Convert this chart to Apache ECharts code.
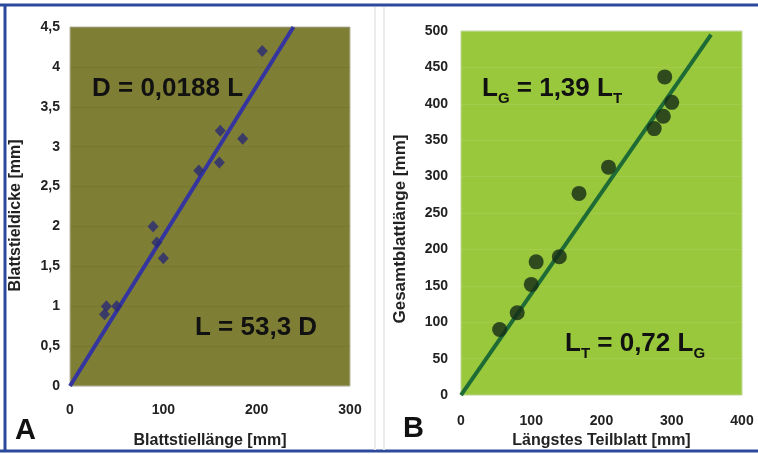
<!DOCTYPE html>
<html>
<head>
<meta charset="utf-8">
<script src="https://cdn.jsdelivr.net/npm/echarts@6/dist/echarts.min.js"></script>
<style>
  html, body { margin: 0; padding: 0; background: #fff; }
  #chart { width: 758px; height: 454px; }
</style>
</head>
<body>
<div id="chart"></div>
<script>
// Panel A: Blattstiellänge [mm] vs. Blattstieldicke [mm]
var stielLaenge = [206, 161, 185, 160, 138, 89, 93, 100, 39, 37, 50];
var stielDicke  = [4.2, 3.2, 3.1, 2.8, 2.7, 2.0, 1.8, 1.6, 1.0, 0.9, 1.0];
var fitA = [[0, 0], [239.4, 4.5]];   // D = 0,0188 L

// Panel B: Längstes Teilblatt [mm] vs. Gesamtblattlänge [mm]
var teilblatt  = [290, 300, 288, 275, 210, 168, 140, 107, 100, 80, 55];
var gesamtLang = [437, 402, 383, 366, 313, 277, 190, 183, 152, 113, 90];
var fitB = [[0, 0], [356, 495]];     // LG = 1,39 LT

var ticksA = { xMax: 300, xStep: 100, yMax: 4.5, yStep: 0.5 };
var ticksB = { xMax: 400, xStep: 100, yMax: 500, yStep: 50 };

function pairs(xs, ys) {
    return xs.map(function (x, i) { return [x, ys[i]]; });
}
function comma(v) { return String(v).replace('.', ','); }

var fontFam = '"Liberation Sans", Arial, sans-serif';
var tickStyle = { color: '#222', fontSize: 14, fontWeight: 'bold', fontFamily: fontFam };
function nameStyle(size, pad) {
    return { color: '#222', fontSize: size, fontWeight: 'bold', fontFamily: fontFam, padding: pad || 0 };
}
var blue = '#2b4a9c';

var mychart = echarts.init(document.getElementById('chart'));
var option = {
    backgroundColor: '#fff',
    animation: false,
    grid: [
        { left: 70, top: 27, width: 280, height: 360, show: true,
          backgroundColor: '#7f7e35', borderColor: '#b5b5a0', borderWidth: 1 },
        { left: 461, top: 31, width: 281, height: 367, show: true,
          backgroundColor: '#99c83d', borderColor: '#c0d8a0', borderWidth: 1 }
    ],
    xAxis: [
        { type: 'value', gridIndex: 0, min: 0, max: ticksA.xMax, interval: ticksA.xStep,
          name: 'Blattstiellänge [mm]', nameLocation: 'middle', nameGap: 47, nameTextStyle: nameStyle(16),
          axisLine: { show: false }, axisTick: { show: false }, splitLine: { show: false },
          axisLabel: Object.assign({ margin: 17 }, tickStyle) },
        { type: 'value', gridIndex: 1, min: 0, max: ticksB.xMax, interval: ticksB.xStep,
          name: 'Längstes Teilblatt [mm]', nameLocation: 'middle', nameGap: 33, nameTextStyle: nameStyle(16),
          axisLine: { show: false }, axisTick: { show: false }, splitLine: { show: false },
          axisLabel: Object.assign({ margin: 19 }, tickStyle) }
    ],
    yAxis: [
        { type: 'value', gridIndex: 0, min: 0, max: ticksA.yMax, interval: ticksA.yStep,
          name: 'Blattstieldicke [mm]', nameLocation: 'middle', nameGap: 46,
          nameTextStyle: nameStyle(16, [0, 18, 0, 0]),
          axisLine: { show: false }, axisTick: { show: false },
          splitLine: { lineStyle: { color: 'rgba(0,0,0,0.05)', width: 1 } },
          axisLabel: Object.assign({ margin: 10, formatter: comma }, tickStyle) },
        { type: 'value', gridIndex: 1, min: 0, max: ticksB.yMax, interval: ticksB.yStep,
          name: 'Gesamtblattlänge [mm]', nameLocation: 'middle', nameGap: 52,
          nameTextStyle: nameStyle(17, [0, 32, 0, 0]),
          axisLine: { show: false }, axisTick: { show: false },
          splitLine: { lineStyle: { color: 'rgba(255,255,255,0.08)', width: 1 } },
          axisLabel: Object.assign({ margin: 13 }, tickStyle) }
    ],
    series: [
        { type: 'line', xAxisIndex: 0, yAxisIndex: 0, data: fitA, symbol: 'none',
          lineStyle: { color: '#3535a0', width: 4 }, z: 2 },
        { type: 'scatter', xAxisIndex: 0, yAxisIndex: 0, data: pairs(stielLaenge, stielDicke),
          symbol: 'diamond', symbolSize: [11, 12], itemStyle: { color: '#2a2a76' }, z: 3 },
        { type: 'line', xAxisIndex: 1, yAxisIndex: 1, data: fitB, symbol: 'none',
          lineStyle: { color: '#1e6b35', width: 4 }, z: 2 },
        { type: 'scatter', xAxisIndex: 1, yAxisIndex: 1, data: pairs(teilblatt, gesamtLang),
          symbol: 'circle', symbolSize: 15, itemStyle: { color: '#142c17' }, z: 3 }
    ],
    graphic: [
        // frame
        { type: 'line', shape: { x1: 0, y1: 5, x2: 758, y2: 5 }, style: { stroke: blue, lineWidth: 3 } },
        { type: 'line', shape: { x1: 0, y1: 451, x2: 758, y2: 451 }, style: { stroke: blue, lineWidth: 3 } },
        { type: 'line', shape: { x1: 5, y1: 5, x2: 5, y2: 451 }, style: { stroke: blue, lineWidth: 3 } },
        { type: 'line', shape: { x1: 375, y1: 7, x2: 375, y2: 450 }, style: { stroke: '#ececec', lineWidth: 2 } },
        { type: 'line', shape: { x1: 384, y1: 7, x2: 384, y2: 450 }, style: { stroke: '#ececec', lineWidth: 2 } },
        // panel letters
        { type: 'text', left: 15, top: 416, style: { text: 'A', fill: '#111', font: 'bold 29px ' + fontFam } },
        { type: 'text', left: 403, top: 414, style: { text: 'B', fill: '#111', font: 'bold 29px ' + fontFam } },
        // equations
        { type: 'text', left: 92, top: 76, style: { text: 'D = 0,0188 L', fill: '#111', font: 'bold 26px ' + fontFam } },
        { type: 'text', left: 195, top: 315, style: { text: 'L = 53,3 D', fill: '#111', font: 'bold 26px ' + fontFam } },
        { type: 'text', left: 482, top: 76, style: {
            text: '{b|L}{s|G}{b| = 1,39 L}{s|T}', fill: '#111',
            rich: {
                b: { font: 'bold 26px ' + fontFam, fill: '#111', verticalAlign: 'bottom' },
                s: { font: 'bold 15px ' + fontFam, fill: '#111', verticalAlign: 'bottom', padding: [0, 0, -4, 0] }
            } } },
        { type: 'text', left: 565, top: 331, style: {
            text: '{b|L}{s|T}{b| = 0,72 L}{s|G}', fill: '#111',
            rich: {
                b: { font: 'bold 26px ' + fontFam, fill: '#111', verticalAlign: 'bottom' },
                s: { font: 'bold 15px ' + fontFam, fill: '#111', verticalAlign: 'bottom', padding: [0, 0, -4, 0] }
            } } }
    ]
};
mychart.setOption(option);
</script>
</body>
</html>
